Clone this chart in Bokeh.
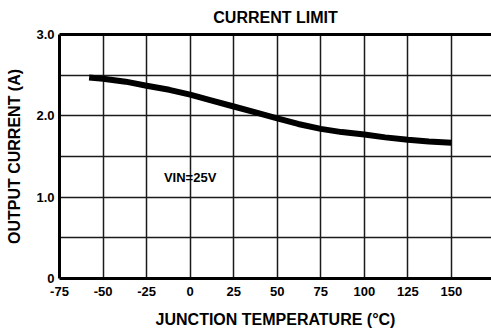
from bokeh.plotting import figure
from bokeh.models import FixedTicker, LinearAxis, Range1d
from bokeh.core.properties import value
from bokeh.embed import file_html
from bokeh.resources import INLINE

temps = [-58, -50, -37, -25, -12, 0, 12, 25, 37, 50, 62, 75, 87, 100, 112, 125, 137, 150]
current = [2.47, 2.455, 2.42, 2.37, 2.32, 2.26, 2.19, 2.115, 2.045, 1.97, 1.90, 1.84, 1.80, 1.77, 1.735, 1.705, 1.685, 1.67]
x_ticks = [-75, -50, -25, 0, 25, 50, 75, 100, 125, 150]
x_labels = ["-75", "-50", "-25", "0", "25", "50", "75", "100", "125", "150"]
y_ticks = [0, 1, 2, 3]
y_minor = [0.5, 1.5, 2.5]
y_labels = ["0", "1.0", "2.0", "3.0"]
note_x = [0]
note_y = [1.24]
note_text = ["VIN=25V"]

FONT = "Liberation Sans"

p = figure(width=491, height=333, output_backend="svg", toolbar_location=None,
           x_range=Range1d(-75, 173), y_range=Range1d(0, 3),
           min_border_left=59, min_border_right=0, min_border_top=34, min_border_bottom=55)
p.outline_line_color = None
p.background_fill_color = "white"

# grid
p.xaxis.ticker = FixedTicker(ticks=x_ticks)
p.yaxis.ticker = FixedTicker(ticks=y_ticks, minor_ticks=y_minor)
for g in (p.xgrid, p.ygrid):
    g.grid_line_color = "#1a1a1a"
    g.grid_line_width = 1.5
p.ygrid.minor_grid_line_color = "#1a1a1a"
p.ygrid.minor_grid_line_width = 1.5

for ax in (p.xaxis, p.yaxis):
    ax.axis_line_width = 3
    ax.axis_line_color = "black"
    ax.major_tick_line_color = None
    ax.minor_tick_line_color = None
    ax.major_tick_out = 0
    ax.major_tick_in = 0
    ax.minor_tick_out = 0
    ax.minor_tick_in = 0
    ax.major_label_text_font = FONT
    ax.major_label_text_font_style = "bold"
    ax.major_label_text_font_size = "13px"
    ax.major_label_text_color = "black"
    ax.axis_label_text_font = FONT
    ax.axis_label_text_font_style = "bold"
    ax.axis_label_text_font_size = "16px"
    ax.axis_label_text_color = "black"

p.xaxis.major_label_overrides = dict(zip(x_ticks, x_labels))
p.yaxis.major_label_overrides = dict(zip(y_ticks, y_labels))
p.xaxis.axis_label = "JUNCTION TEMPERATURE (°C)"
p.yaxis.axis_label = "OUTPUT CURRENT (A)"
p.xaxis.major_label_standoff = 8
p.yaxis.major_label_standoff = 5
p.xaxis.axis_label_standoff = 12
p.yaxis.axis_label_standoff = 10

top = LinearAxis(ticker=FixedTicker(ticks=[]), axis_label="CURRENT LIMIT")
top.axis_line_width = 3
top.axis_line_color = "black"
top.major_tick_line_color = None
top.minor_tick_line_color = None
top.major_tick_out = 0
top.minor_tick_out = 0
top.major_label_text_font_size = "0px"
top.axis_label_text_font = FONT
top.axis_label_text_font_style = "bold"
top.axis_label_text_font_size = "16px"
top.axis_label_text_color = "black"
top.axis_label_standoff = 9
p.add_layout(top, "above")

p.line(temps, current, line_width=6, line_color="black", line_cap="butt", line_join="round")
p.text(note_x, note_y, text=note_text, text_font=value(FONT), text_font_style="bold",
       text_font_size="13px", text_align="center", text_baseline="middle", text_color="black")

open("out.html", "w").write(file_html(p, INLINE))
